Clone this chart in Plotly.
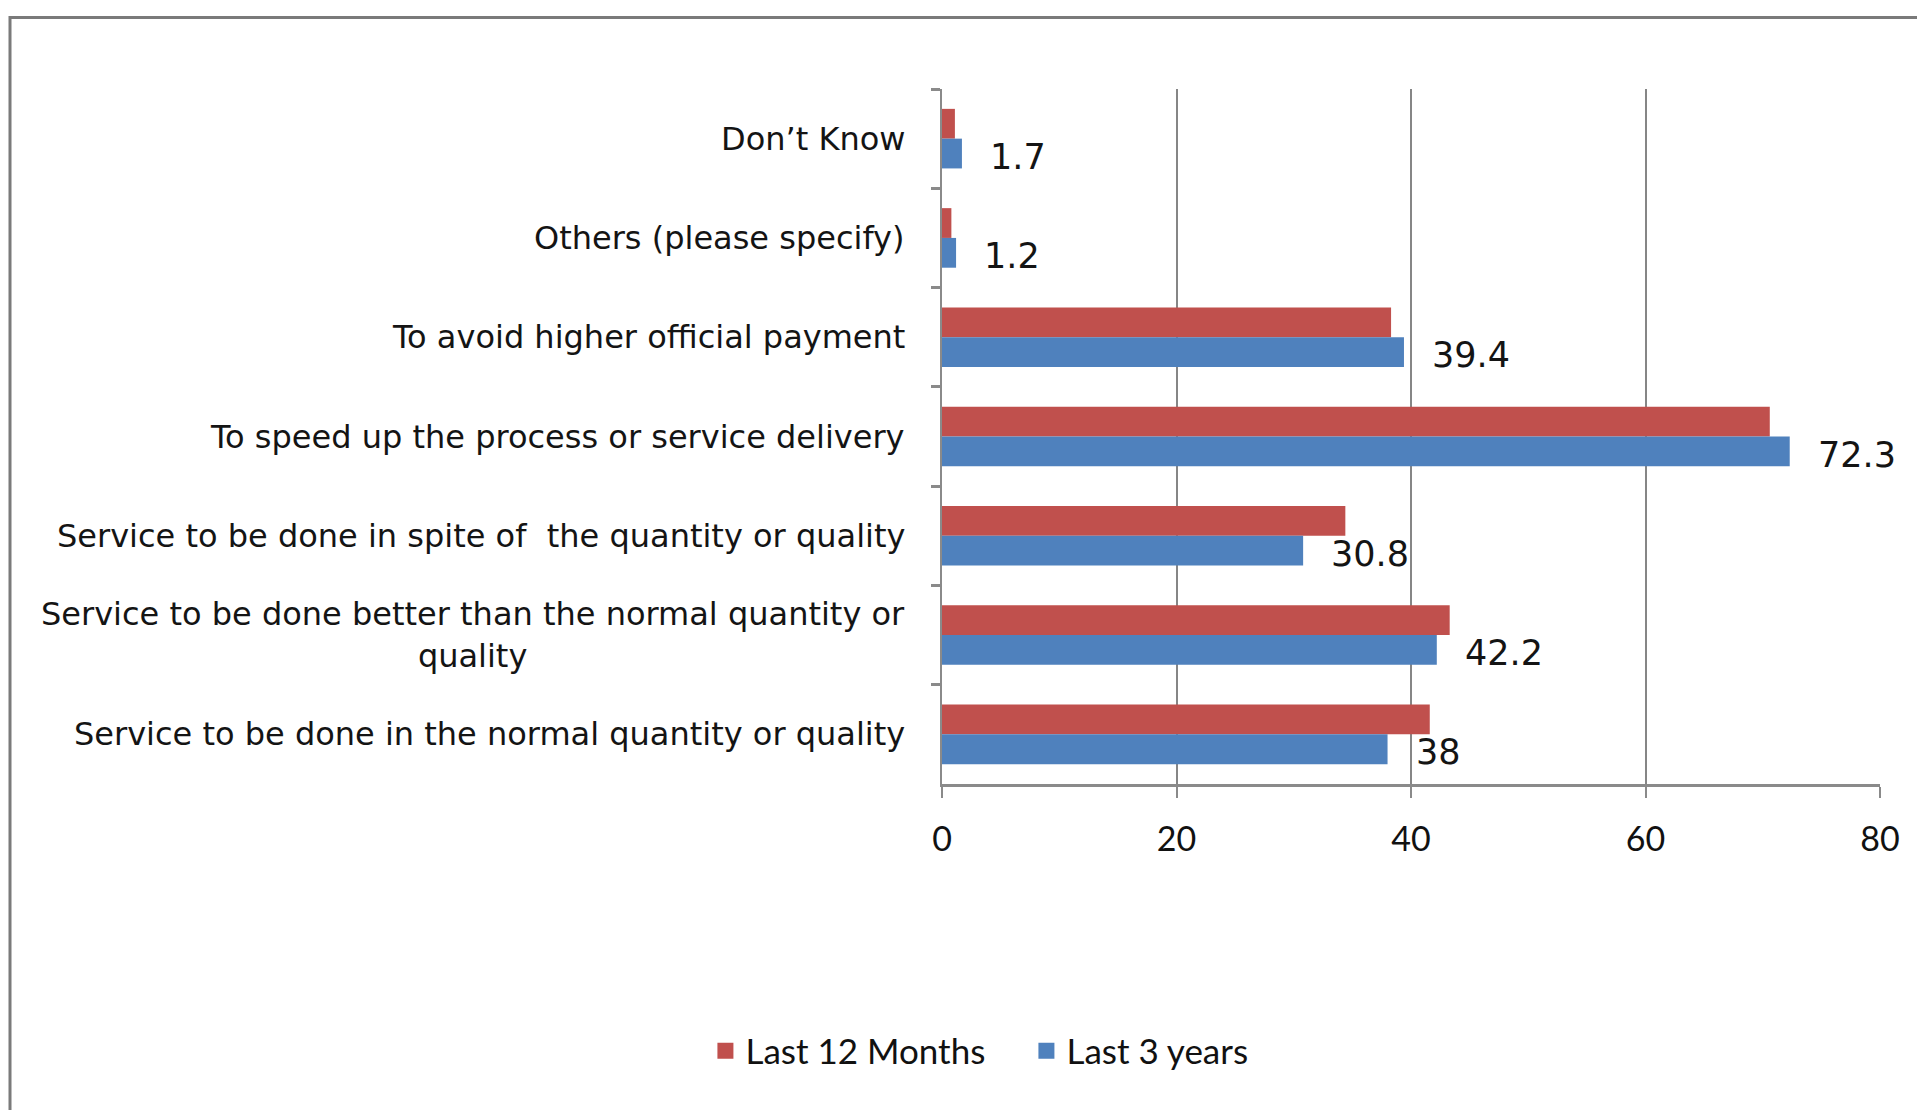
import plotly.graph_objects as go

# Survey reasons, listed top to bottom as they appear on the chart
categories = [
    "Don’t Know",
    "Others (please specify)",
    "To avoid higher official payment",
    "To speed up the process or service delivery",
    "Service to be done in spite of  the quantity or quality",
    "Service to be done better than the normal quantity or<br>quality",
    "Service to be done in the normal quantity or quality",
]
last_12_months = [1.1, 0.8, 38.3, 70.6, 34.4, 43.3, 41.6]
last_3_years = [1.7, 1.2, 39.4, 72.3, 30.8, 42.2, 38.0]
series_names = ["Last 12 Months", "Last 3 years"]
x_ticks = [0, 20, 40, 60, 80]

RED = "#C0504D"
BLUE = "#4F81BD"
GRID = "#868686"
LABEL_FONT = "DejaVu Sans"
NUM_FONT = "Lato"

fig = go.Figure()
for name, vals, col in zip(series_names, [last_12_months, last_3_years], [RED, BLUE]):
    fig.add_trace(go.Bar(
        name=name, y=categories, x=vals, orientation="h",
        marker=dict(color=col, line=dict(width=0)), showlegend=False,
    ))
# Legend entries with larger square swatches
for name, col in zip(series_names, [RED, BLUE]):
    fig.add_trace(go.Scatter(
        name=name, x=[None], y=[None], mode="markers",
        marker=dict(symbol="square", size=16, color=col), showlegend=True,
    ))

annotations = []
# Category labels, right-aligned against the axis with centred wrapped lines
for cat in categories:
    annotations.append(dict(
        xref="paper", x=0, yref="y", y=cat,
        xanchor="right", yanchor="middle", xshift=-35,
        text=cat, showarrow=False, align="center",
        font=dict(family=LABEL_FONT, size=32, color="#141414"),
    ))
# Value labels next to the "Last 3 years" bars
for cat, val in zip(categories, last_3_years):
    annotations.append(dict(
        xref="x", x=val, yref="y", y=cat,
        xanchor="left", yanchor="middle", xshift=26, yshift=-18,
        text=f"{val:g}", showarrow=False,
        font=dict(family=LABEL_FONT, size=35, color="#141414"),
    ))

fig.update_layout(
    width=1917, height=1110,
    margin=dict(l=942, r=37, t=89, b=326),
    paper_bgcolor="white", plot_bgcolor="white",
    barmode="group", bargap=0.4, bargroupgap=0,
    annotations=annotations,
    showlegend=True,
    legend=dict(
        orientation="h", x=0.090, xanchor="center", y=-0.384, yanchor="middle",
        font=dict(family=NUM_FONT, size=35, color="#111111"),
        traceorder="normal", itemwidth=30, entrywidth=276,
    ),
    shapes=[dict(
        type="rect", xref="paper", yref="paper",
        x0=-0.9936, x1=1.2, y0=-0.6, y1=1.103,
        line=dict(color="#7a7a7a", width=3), layer="below",
    )],
)

fig.update_xaxes(
    range=[0, 80], tickvals=x_ticks,
    showgrid=True, gridcolor=GRID, gridwidth=2, zeroline=False,
    showline=True, linecolor="#8a8a8a", linewidth=3,
    ticks="outside", ticklen=11, tickwidth=2, tickcolor="#8a8a8a",
    tickfont=dict(family=NUM_FONT, size=34, color="#111111"),
    ticklabelstandoff=12,
)
fig.update_yaxes(
    categoryorder="array", categoryarray=categories, autorange="reversed",
    showticklabels=False, showgrid=False, zeroline=False,
    showline=True, linecolor="#8a8a8a", linewidth=2,
    ticks="outside", tickson="boundaries", ticklen=9, tickwidth=3, tickcolor="#8a8a8a",
)

fig.write_html("out.html")
